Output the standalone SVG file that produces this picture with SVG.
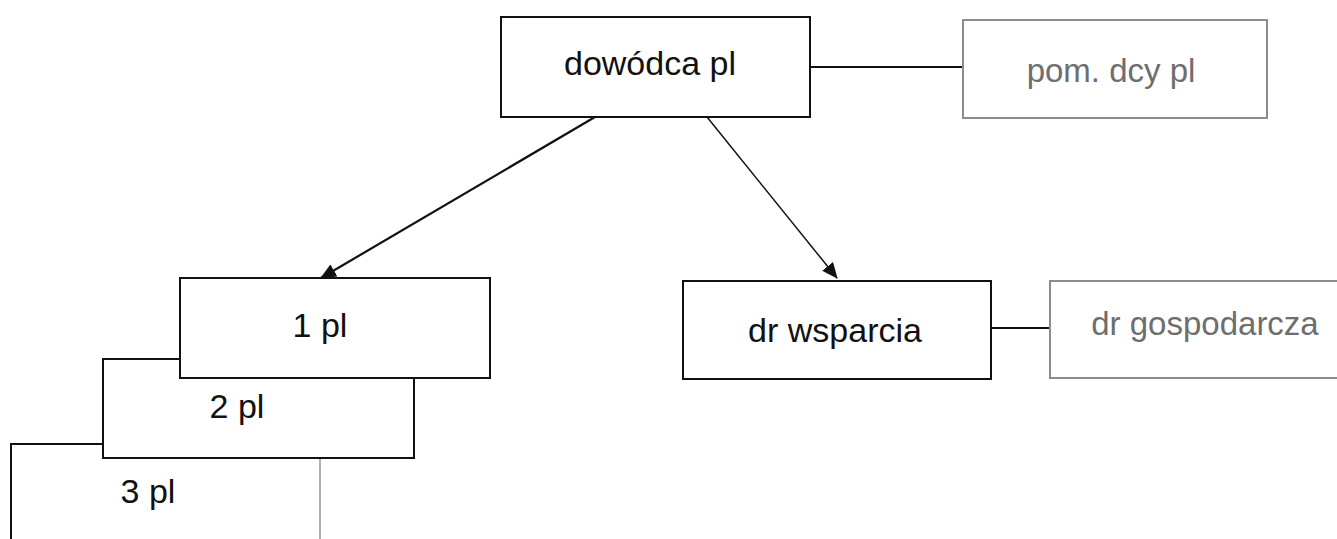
<svg xmlns="http://www.w3.org/2000/svg" width="1337" height="539" viewBox="0 0 1337 539">
<style>
.box{fill:#fff;stroke:#111;stroke-width:2}
.gbox{fill:#fff;stroke:#8c8c8c;stroke-width:2}
.t{font-family:"Liberation Sans",Arial,sans-serif;font-size:34px;fill:#111;text-anchor:middle}
.gt{font-family:"Liberation Sans",Arial,sans-serif;font-size:33px;fill:#6e6e6e;text-anchor:middle}
.c{stroke:#111;fill:none}
</style>
<defs>
<marker id="ah" markerWidth="16" markerHeight="14" refX="15" refY="7" orient="auto" markerUnits="userSpaceOnUse">
<path d="M0,0 L16,7 L0,14 z" fill="#111"/>
</marker>
</defs>
<rect width="1337" height="539" fill="#fff"/>
<g id="connectors">
<line class="c" x1="595" y1="117" x2="321" y2="278" stroke-width="2.2" marker-end="url(#ah)"/>
<line class="c" x1="707" y1="117" x2="837" y2="278" stroke-width="1.5" marker-end="url(#ah)"/>
<line class="c" x1="810" y1="67" x2="963" y2="67" stroke-width="2"/>
<line class="c" x1="991" y1="328" x2="1050" y2="328" stroke-width="2"/>
</g>
<g id="node-dowodca">
<rect class="box" x="501" y="17" width="309" height="100"/>
<text class="t" x="650" y="75">dowódca pl</text>
</g>
<g id="node-pom">
<rect class="gbox" x="963" y="20" width="304" height="98"/>
<text class="gt" x="1111" y="82">pom. dcy pl</text>
</g>
<g id="node-3pl">
<rect x="11" y="444" width="309" height="110" fill="#fff"/>
<path d="M11,545 L11,444 L103,444" fill="none" stroke="#111" stroke-width="2"/>
<line x1="320" y1="458" x2="320" y2="545" stroke="#777" stroke-width="1.2"/>
<text class="t" x="148" y="503">3 pl</text>
</g>
<g id="node-2pl">
<rect class="box" x="103" y="359" width="311" height="99"/>
<text class="t" x="237" y="418">2 pl</text>
</g>
<g id="node-1pl">
<rect class="box" x="180" y="278" width="310" height="100"/>
<text class="t" x="320" y="337">1 pl</text>
</g>
<g id="node-drwsparcia">
<rect class="box" x="683" y="281" width="308" height="98"/>
<text class="t" x="835" y="342">dr wsparcia</text>
</g>
<g id="node-drgospodarcza">
<rect class="gbox" x="1050" y="281" width="300" height="97"/>
<text class="gt" x="1205" y="335">dr gospodarcza</text>
</g>
</svg>
